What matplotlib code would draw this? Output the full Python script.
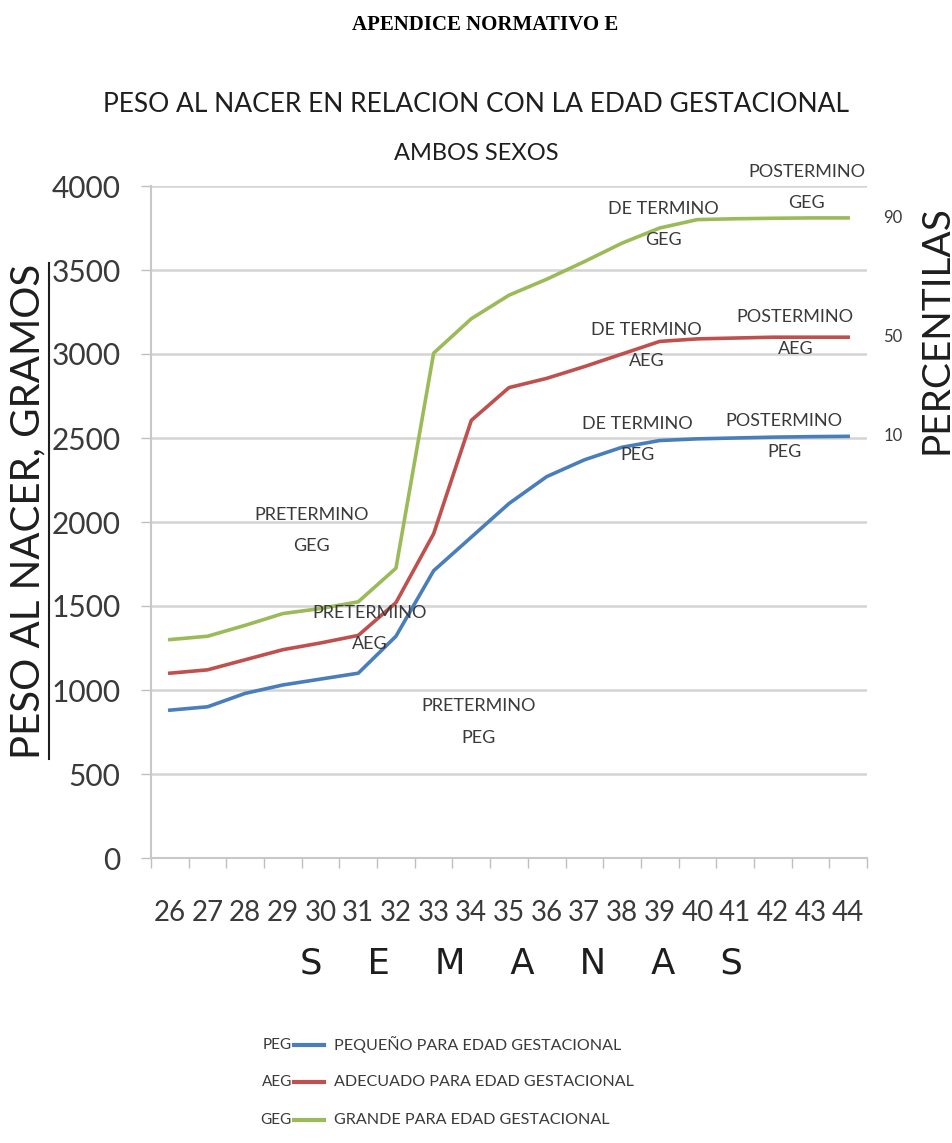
import matplotlib
matplotlib.use("Agg")
import matplotlib.pyplot as plt
from matplotlib.lines import Line2D

# datos
semanas = list(range(26, 45))
peg = [880, 900, 980, 1030, 1065, 1100, 1320, 1710, 1910, 2110, 2270, 2370, 2445, 2485, 2495, 2500, 2505, 2508, 2510]
aeg = [1100, 1120, 1180, 1240, 1280, 1325, 1520, 1930, 2605, 2800, 2855, 2925, 3000, 3075, 3090, 3095, 3100, 3100, 3100]
geg = [1300, 1320, 1385, 1455, 1485, 1525, 1725, 3005, 3210, 3350, 3445, 3550, 3660, 3750, 3800, 3805, 3808, 3810, 3810]

y_ticks = [0, 500, 1000, 1500, 2000, 2500, 3000, 3500, 4000]
percentilas = ["10", "50", "90"]

codigos = ["PEG", "AEG", "GEG"]
descripciones = ["PEQUEÑO PARA EDAD GESTACIONAL", "ADECUADO PARA EDAD GESTACIONAL", "GRANDE PARA EDAD GESTACIONAL"]
colores = ["#4a7ebb", "#c0504d", "#9bbb59"]

# etiquetas dentro de la grafica: (texto, semana, gramos)
etiquetas = [
    ("POSTERMINO\nGEG", 42.9, 3990),
    ("DE TERMINO\nGEG", 39.1, 3770),
    ("DE TERMINO\nAEG", 38.65, 3050),
    ("POSTERMINO\nAEG", 42.6, 3125),
    ("DE TERMINO\nPEG", 38.4, 2490),
    ("POSTERMINO\nPEG", 42.3, 2510),
    ("PRETERMINO\nGEG", 29.75, 1950),
    ("PRETERMINO\nAEG", 31.3, 1365),
    ("PRETERMINO\nPEG", 34.2, 810),
]

plt.rcParams['font.family'] = ['Lato', 'DejaVu Sans']
gris = "#3a3a3a"

W, H = 953, 1143
fig = plt.figure(figsize=(W / 100, H / 100), dpi=100)
ax = fig.add_axes([151 / W, 1 - 858 / H, 716 / W, 672 / H])

for serie, c in zip([peg, aeg, geg], colores):
    ax.plot(semanas, serie, color=c, lw=2.6, solid_joinstyle='round')

ax.set_xlim(semanas[0] - 0.5, semanas[-1] + 0.5)
ax.set_ylim(0, 4000)
ax.set_yticks(y_ticks)
ax.set_yticklabels([str(v) for v in y_ticks])
ax.set_xticks(semanas)
ax.set_xticklabels([str(s) for s in semanas])
ax.set_xticks([s - 0.5 for s in semanas] + [semanas[-1] + 0.5], minor=True)
ax.tick_params(axis='x', which='major', length=0, pad=30, labelsize=20, labelcolor=gris)
ax.tick_params(axis='x', which='minor', length=7, width=1, color="#bfbfbf", direction='out')
ax.tick_params(axis='y', length=7, width=1, color="#bfbfbf", pad=15, labelsize=21.5, labelcolor=gris)
ax.grid(axis='y', color="#d4d4d4", lw=1.8)
ax.set_axisbelow(True)
for s in ['top', 'right']:
    ax.spines[s].set_visible(False)
for s in ['left', 'bottom']:
    ax.spines[s].set_color("#c8c8c8")
    ax.spines[s].set_linewidth(1.5)

for txt, x, y in etiquetas:
    ax.text(x, y, txt, ha='center', va='center', fontsize=13, color=gris, linespacing=2.2)

# percentilas a la derecha, alineadas con el ultimo valor de cada serie
for p, serie in zip(percentilas, [peg, aeg, geg]):
    ax.text(1.036, serie[-1], p, transform=ax.get_yaxis_transform(), ha='center', va='center',
            fontsize=12, color=gris)

fig.text(485 / W, 1 - 25 / H, "APENDICE NORMATIVO E", ha='center', va='center', fontsize=15,
         family=['Liberation Serif', 'DejaVu Serif'], weight='bold', color='black')
fig.text(476 / W, 1 - 105 / H, "PESO AL NACER EN RELACION CON LA EDAD GESTACIONAL", ha='center', va='center',
         fontsize=19, color="#1e1e1e")
fig.text(476 / W, 1 - 153 / H, "AMBOS SEXOS", ha='center', va='center', fontsize=17, color="#1e1e1e")

ylab = fig.text(28 / W, 1 - 511 / H, "PESO AL NACER, GRAMOS", ha='center', va='center', rotation=90,
                fontsize=29, color="#1e1e1e")
fig.text(937 / W, 1 - 330 / H, "PERCENTILAS", ha='center', va='center', rotation=90,
         fontsize=28, color="#1e1e1e")
fig.text(521 / W, 1 - 963 / H, "S    E    M    A    N    A    S", ha='center', va='center', fontsize=25.5,
         family=['DejaVu Sans'], color="#1e1e1e")

# leyenda dibujada a mano como en la original
filas_y = [1045, 1082, 1120]
for cod, desc, c, fy in zip(codigos, descripciones, colores, filas_y):
    yy = 1 - fy / H
    fig.text(292 / W, yy, cod, ha='right', va='center', fontsize=11, color=gris)
    fig.add_artist(Line2D([294 / W, 324 / W], [yy, yy], color=c, lw=3))
    fig.text(334 / W, yy, desc, ha='left', va='center', fontsize=11.6, color=gris)

# subrayado de la etiqueta del eje y
fig.canvas.draw()
bb = ylab.get_window_extent().transformed(fig.transFigure.inverted())
fig.add_artist(Line2D([bb.x1 + 2 / W, bb.x1 + 2 / W], [bb.y0, bb.y1], color="#1e1e1e", lw=1.5))

fig.savefig("out.png", dpi=100)
